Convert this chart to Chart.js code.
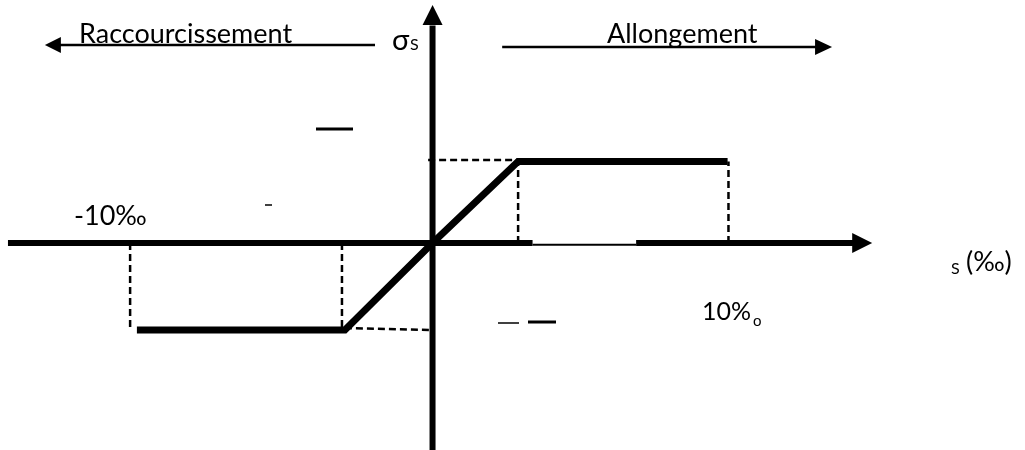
<!DOCTYPE html>
<html>
<head>
<meta charset="utf-8">
<script src="https://cdn.jsdelivr.net/npm/chart.js@4.4.1/dist/chart.umd.min.js"></script>
<style>
    html, body { margin: 0; padding: 0; background: #fff; }
    #wrap { width: 1025px; height: 450px; position: relative; }
</style>
</head>
<body>
<div id="wrap"><canvas id="diagram"></canvas></div>
<script>
// --- DATA: strain in ‰, stress relative to the design yield stress ---
// bilinear steel law: lower plateau -> elastic branch -> upper plateau
const lawStrain = [-10.02, -2.97, 0, 2.9, 10.0];
const lawStress = [-1.067, -1.067, 0, 1.0, 1.0];

// dashed construction lines (verticals down to the strain axis)
const guideStrain = [-10.25, -3.07, 2.9, 10.03];
const guideStress = [-1.067, -1.067, 1.0, 1.0];

// dashed horizontals from the stress axis to the yield points
const yieldTopStrain = [-0.15, 2.9];
const yieldTopStress = [1.02, 1.02];
const yieldBotStrain = [-2.97, 0];
const yieldBotStress = [-1.043, -1.067];

// axis extents
const axisStrain = [-14.39, 14.9];
const axisStress = [-2.54, 2.92];

// direction arrows above the diagram
const shortenStrain = [-1.95, -13.14];
const stretchStrain = [2.36, 13.54];
const arrowRowStress = [2.43, 2.405];

const labels = ['Raccourcissement', 'Allongement', 'σ', 'S', '-10‰', '10%', 'o', 'S', '(‰)'];

// --- DATASETS ---
const BLACK = '#000';

function pts(xs, ys) {
    return xs.map((x, i) => ({ x: x, y: ys[i] }));
}

function line(data, width, extra) {
    return Object.assign({
        data: data,
        showLine: true,
        borderColor: BLACK,
        borderWidth: width,
        pointRadius: 0,
        pointHoverRadius: 0,
        fill: false,
        tension: 0,
        clip: false
    }, extra || {});
}

const datasets = [];
const dashed = { borderDash: [7, 4] };

// axes (the strain axis has a thin stretch right of the yield point)
datasets.push(line(pts([axisStrain[0], 3.39], [0, 0]), 6, { borderCapStyle: 'butt' }));
datasets.push(line(pts([3.39, 6.9], [-0.02, -0.02]), 2));
datasets.push(line(pts([6.9, axisStrain[1] - 0.6], [0, 0]), 6, { arrowTo: { x: axisStrain[1], y: 0 }, head: [20, 10] }));
datasets.push(line(pts([0, 0], [axisStress[0], axisStress[1] - 0.25]), 6, { arrowTo: { x: 0, y: axisStress[1] }, head: [20, 10] }));

// dashed guides
guideStrain.forEach((s, i) => {
    datasets.push(line(pts([s, s], [0, guideStress[i]]), 2.5, dashed));
});
datasets.push(line(pts(yieldTopStrain, yieldTopStress), 2.5, dashed));
datasets.push(line(pts(yieldBotStrain, yieldBotStress), 2.5, dashed));

// stress-strain law
datasets.push(line(pts(lawStrain, lawStress), 7, { borderJoinStyle: 'miter', borderCapStyle: 'butt' }));

// direction arrows
datasets.push(line(pts([shortenStrain[0], shortenStrain[1] + 0.5], [arrowRowStress[0], arrowRowStress[0]]), 2.5,
    { arrowTo: { x: shortenStrain[1], y: arrowRowStress[0] }, head: [16, 8] }));
datasets.push(line(pts([stretchStrain[0], stretchStrain[1] - 0.5], [arrowRowStress[1], arrowRowStress[1]]), 2.5,
    { arrowTo: { x: stretchStrain[1], y: arrowRowStress[1] }, head: [17, 8] }));

// --- PLUGINS ---
// filled arrow heads at the end of datasets that ask for one
const arrowHeads = {
    id: 'arrowHeads',
    afterDatasetsDraw(chart) {
        const ctx = chart.ctx;
        const xs = chart.scales.x, ys = chart.scales.y;
        chart.data.datasets.forEach(ds => {
            if (!ds.arrowTo) return;
            const tipX = xs.getPixelForValue(ds.arrowTo.x);
            const tipY = ys.getPixelForValue(ds.arrowTo.y);
            const prev = ds.data[0];
            const px = xs.getPixelForValue(prev.x), py = ys.getPixelForValue(prev.y);
            const ang = Math.atan2(tipY - py, tipX - px);
            const len = ds.head[0], half = ds.head[1];
            ctx.save();
            ctx.translate(tipX, tipY);
            ctx.rotate(ang);
            ctx.beginPath();
            ctx.moveTo(0, 0);
            ctx.lineTo(-len, -half);
            ctx.lineTo(-len, half);
            ctx.closePath();
            ctx.fillStyle = BLACK;
            ctx.fill();
            ctx.restore();
        });
    }
};

// text and stray marks
const notes = {
    id: 'notes',
    afterDraw(chart) {
        const ctx = chart.ctx;
        const face = 'Lato, "Open Sans", sans-serif';
        ctx.save();
        ctx.fillStyle = BLACK;
        ctx.textBaseline = 'alphabetic';
        ctx.textAlign = 'left';

        const put = (txt, x, y, size) => {
            ctx.font = size + 'px ' + face;
            ctx.fillText(txt, x, y);
        };
        put(labels[0], 79, 43, 27);
        put(labels[1], 607, 43, 27);
        put(labels[2], 392, 50, 29);
        put(labels[3], 410, 50, 16);
        put(labels[4], 74, 225, 27);
        put(labels[5], 702, 320, 25);
        put(labels[6], 753, 326, 15);
        put(labels[7], 951, 274, 16);
        put(labels[8], 966, 271, 27);

        // short dashes scattered in the drawing
        ctx.strokeStyle = BLACK;
        ctx.lineCap = 'butt';
        [[316, 353, 129, 3], [265, 272, 205, 1.5], [498, 519, 323, 1.5], [528, 556, 322, 3]].forEach(d => {
            ctx.lineWidth = d[3];
            ctx.beginPath();
            ctx.moveTo(d[0], d[2]);
            ctx.lineTo(d[1], d[2]);
            ctx.stroke();
        });
        ctx.restore();
    }
};

// --- CHART ---
new Chart(document.getElementById('diagram'), {
    type: 'scatter',
    data: { datasets: datasets },
    options: {
        responsive: true,
        maintainAspectRatio: false,
        animation: false,
        events: [],
        layout: { padding: 0 },
        plugins: { legend: { display: false }, tooltip: { enabled: false } },
        scales: {
            x: { type: 'linear', display: false, min: -14.66, max: 20.08 },
            y: { type: 'linear', display: false, min: -2.54, max: 2.982 }
        }
    },
    plugins: [arrowHeads, notes]
});
</script>
</body>
</html>
